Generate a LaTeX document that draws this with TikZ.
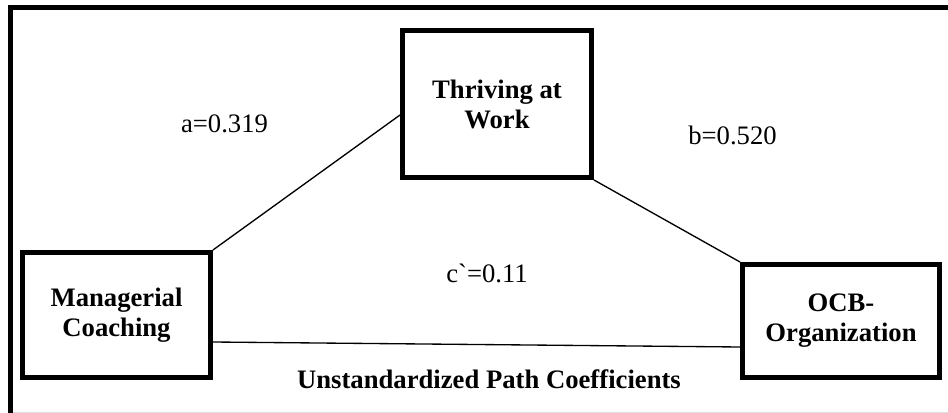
\documentclass[tikz,border=0pt]{standalone}
\usepackage{fontspec}
\setmainfont{Liberation Serif}[Ligatures=TeXOff]
\usetikzlibrary{calc}
\begin{document}
\begin{tikzpicture}[x=0.75pt,y=-0.75pt,
  varbox/.style={draw,line width=3.5pt,rectangle,align=center,inner sep=0pt,
    font=\fontsize{20}{22.5}\selectfont\bfseries},
  conn/.style={line width=1pt},
  coef/.style={anchor=base,inner sep=0pt,font=\fontsize{20}{22.5}\selectfont},
  frameline/.style={line width=3.75pt}]
\useasboundingbox (0,0) rectangle (948,413);
% frame
\coordinate (fbl) at (10.5,413);
\coordinate (ftl) at (10.5,7.5);
\coordinate (ftr) at (948,7.5);
\coordinate (gbl) at (13,412.3);
\coordinate (gbr) at (948,412.3);
\draw[frameline] (fbl) -- (ftl) -- (ftr);
\draw[gray!25,line width=0.9pt] (gbl) -- (gbr);
% boxes
\node[varbox,minimum width=141.2pt,minimum height=94pt] (M) at (116.5,315) {Managerial\\Coaching};
\node[varbox,minimum width=142pt,minimum height=110.5pt] (T) at (497,104) {Thriving at\\Work};
\node[varbox,minimum width=148pt,minimum height=85pt] (O) at (841,321) {OCB-\\Organization};
% connectors
\draw[conn] (M.north east) -- ([yshift=-8.25pt]T.west);
\draw[conn] (T.south east) -- (O.north west);
\draw[conn] ([yshift=-20.25pt]M.east) -- ([yshift=-19.5pt]O.west);
% labels
\node[coef] (la) at (224.5,133) {a=0.319};
\node[coef] (lb) at (732.5,145) {b=0.520};
\node[coef] (lc) at (487,282) {c`=0.11};
\node[coef,font=\fontsize{20}{22.5}\selectfont\bfseries] (title) at (489,388) {Unstandardized Path Coefficients};
\end{tikzpicture}
\end{document}
